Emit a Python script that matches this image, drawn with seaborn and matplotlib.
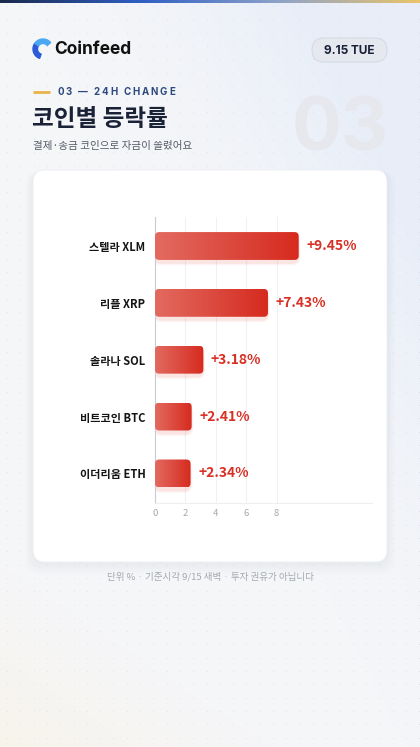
import numpy as np
import matplotlib
matplotlib.use("Agg")
import matplotlib.pyplot as plt
import seaborn as sns
from matplotlib.patches import FancyBboxPatch, Wedge
from matplotlib.colors import LinearSegmentedColormap

# data
coins = ["스텔라 XLM", "리플 XRP", "솔라나 SOL", "비트코인 BTC", "이더리움 ETH"]
changes = [9.45, 7.43, 3.18, 2.41, 2.34]
value_labels = ["+9.45%", "+7.43%", "+3.18%", "+2.41%", "+2.34%"]
x_ticks = [0, 2, 4, 6, 8]

sns.set_style("white")
plt.rcParams['font.family'] = ['Noto Sans CJK KR', 'DejaVu Sans']

W, H = 420, 747
fig = plt.figure(figsize=(W / 100, H / 100), dpi=100)

# background canvas in pixel coords
bg = fig.add_axes([0, 0, 1, 1])
bg.set_xlim(0, W)
bg.set_ylim(H, 0)
bg.axis("off")

yy, xx = np.mgrid[0:1:200j, 0:1:120j]
base = np.array([0.961, 0.965, 0.976])
blue = np.array([0.910, 0.933, 0.973])
warm = np.array([0.972, 0.957, 0.925])
wb = np.clip((xx - yy * 0.9) * 1.4, 0, 1)[..., None] ** 2
ww = np.clip((yy - 0.75) * 4 - xx * 1.5, 0, 1)[..., None]
img = base * (1 - wb) + blue * wb
img = img * (1 - ww) + warm * ww
bg.imshow(img, extent=(0, W, H, 0), aspect="auto", zorder=0)

# dot pattern
gx, gy = np.meshgrid(np.arange(7, W, 13.3), np.arange(6, H, 13.3))
bg.scatter(gx.ravel(), gy.ravel(), s=0.5, color="#d9dde5", alpha=0.6, lw=0, zorder=1)

# top stripe
stripe = LinearSegmentedColormap.from_list("s", ["#1b2a4e", "#2f5fc4", "#8fa3c8", "#e9c46a"])
bg.imshow(np.linspace(0, 1, 256)[None, :], cmap=stripe, extent=(0, W, 3.5, 0), aspect="auto", zorder=2)

# logo
bg.add_patch(Wedge((43, 49), 10, 110, 215, width=4.5, color="#2d5bd8", zorder=3))
bg.add_patch(Wedge((43, 49), 10, 215, 320, width=4.5, color="#4aa8f2", zorder=3))
bg.text(54, 49.5, "Coinfeed", fontsize=12.5, fontweight="bold", color="#111111",
        va="center", ha="left", family=["Inter", "DejaVu Sans"], zorder=3)

# date pill
bg.add_patch(FancyBboxPatch((312, 38), 75, 24, boxstyle="round,pad=0,rounding_size=12",
                            fc="#e5e8ef", ec="#d6dae3", lw=0.8, zorder=3))
bg.text(349.5, 50.5, "9.15 TUE", fontsize=8.5, fontweight="bold", color="#1a2238",
        ha="center", va="center", family=["Inter", "DejaVu Sans"], zorder=4)

# watermark
bg.text(389, 131, "03", fontsize=53, fontweight="bold", color="#e6e8ed",
        ha="right", va="center", family=["Inter", "DejaVu Sans"], zorder=2)

# kicker with letter spacing
bg.plot([33, 50], [92, 92], color="#e8b347", lw=2, solid_capstyle="butt", zorder=3)
renderer = fig.canvas.get_renderer()
xpos = 57
for ch in "03 — 24H CHANGE":
    t = bg.text(xpos, 92, ch, fontsize=7, fontweight="bold", color="#2e4a7d",
                ha="left", va="center", zorder=3, family=["Inter", "DejaVu Sans"])
    w = t.get_window_extent(renderer).width
    if ch == " ":
        w = 2.2
    xpos += w + 1.9

bg.text(32, 119, "코인별 등락률", fontsize=17, fontweight="bold", color="#1a2238",
        ha="left", va="center", zorder=3)
bg.text(33, 146, "결제·송금 코인으로 자금이 쏠렸어요", fontsize=7.6, color="#555b66",
        ha="left", va="center", zorder=3)

# card with soft shadow
for i, a in enumerate([0.018, 0.014, 0.01, 0.008]):
    g = 3 + i * 4
    bg.add_patch(FancyBboxPatch((33 - g / 2, 170 + 1), 354 + g, 392 + g * 0.8,
                                boxstyle="round,pad=0,rounding_size=14",
                                fc="#3a4870", ec="none", alpha=a, zorder=3))
bg.add_patch(FancyBboxPatch((33, 170), 354, 392, boxstyle="round,pad=0,rounding_size=12",
                            fc="white", ec="#eceef2", lw=0.6, zorder=4))

bg.text(210, 577, "단위 % · 기준시각 9/15 새벽 · 투자 권유가 아닙니다", fontsize=6.9,
        color="#a3a8b2", ha="center", va="center", zorder=3)

# chart axes
x0, x1, ytop, ybot = 155, 371.7, 217, 503
ax = fig.add_axes([x0 / W, (H - ybot) / H, (x1 - x0) / W, (ybot - ytop) / H])
ax.patch.set_alpha(0)
ax.set_zorder(5)

sns.barplot(x=changes, y=coins, orient="h", width=0.49, color="#d93025", ax=ax, zorder=3)

xmax = 14.25
ax.set_xlim(0, xmax)
ax.set_ylim(4.52, -0.51)

grad = LinearSegmentedColormap.from_list("g", ["#e36a60", "#dc4b40", "#d72a1e"])
for p, lab in zip(ax.patches, value_labels):
    bx, by, bw, bh = p.get_x(), p.get_y(), p.get_width(), p.get_height()
    p.set_visible(False)
    # glow
    for k, a in enumerate([0.06, 0.045, 0.03]):
        e = 0.12 + k * 0.14
        ax.add_patch(FancyBboxPatch((bx - e * 0.3, by + 0.06 - e * 0.05), bw + e * 0.6, bh + e * 0.14,
                                    boxstyle="round,pad=0,rounding_size=0.5", mutation_aspect=0.27,
                                    fc="#e04030", ec="none", alpha=a, zorder=2))
    fb = FancyBboxPatch((bx, by), bw, bh, boxstyle="round,pad=0,rounding_size=0.28",
                        mutation_aspect=0.26, fc="none", ec="none", zorder=3)
    ax.add_patch(fb)
    im = ax.imshow(np.linspace(0, 1, 256)[None, :], cmap=grad, aspect="auto",
                   extent=(bx, bx + bw, by + bh, by), zorder=3)
    im.set_clip_path(fb)
    ax.text(bx + bw + 0.5, by + bh / 2, lab, fontsize=10, fontweight="bold",
            color="#d93025", ha="left", va="center", zorder=4)

ax.set_xlim(0, xmax)
ax.set_ylim(4.52, -0.51)
ax.set_xticks(x_ticks)
ax.set_xticklabels([str(v) for v in x_ticks])
ax.tick_params(axis="x", length=0, labelsize=6.8, labelcolor="#a3a8b2", pad=4)
ax.tick_params(axis="y", length=0, labelsize=8, labelcolor="#151515", pad=7)
for t in ax.get_yticklabels():
    t.set_fontweight("bold")
for v in x_ticks[1:]:
    ax.axvline(v, color="#eff1f4", lw=0.8, zorder=1)
ax.set_xlabel("")
ax.set_ylabel("")
for s in ["top", "right"]:
    ax.spines[s].set_visible(False)
ax.spines["left"].set_color("#c6cad3")
ax.spines["left"].set_linewidth(0.8)
ax.spines["bottom"].set_color("#eceef2")
ax.spines["bottom"].set_linewidth(0.8)

fig.savefig("out.png", dpi=100)
